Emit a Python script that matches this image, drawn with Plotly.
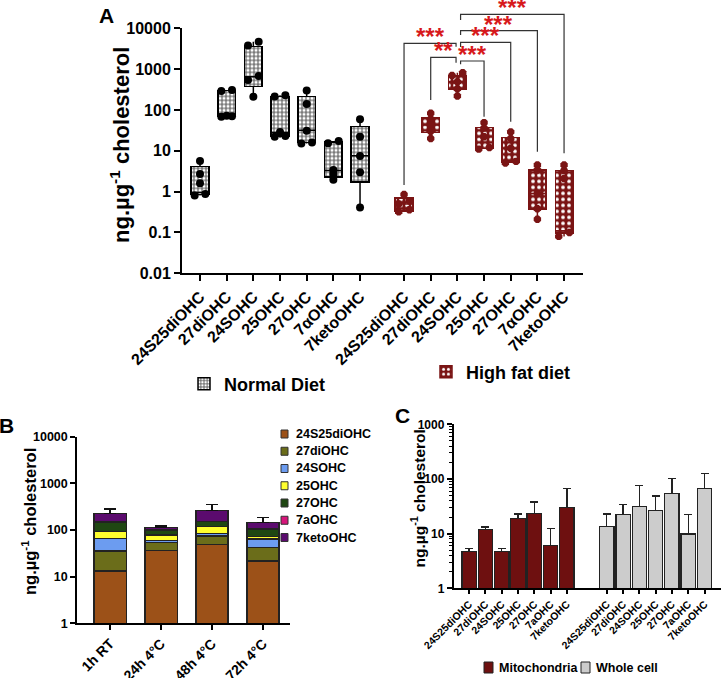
import math
import plotly.graph_objects as go

W, H = 721, 678
FONT = "Liberation Sans, Arial, sans-serif"

# ---------------- Panel A data ----------------
oxy_a = ["24S25diOHC", "27diOHC", "24SOHC", "25OHC", "27OHC", "7αOHC", "7ketoOHC"]
nd_min = [0.8, 68, 212, 21, 15, 1.8, 0.41]
nd_q1 = [0.85, 70, 380, 23, 15.8, 2.3, 1.7]
nd_med = [0.95, 78, 650, 28, 32, 3.3, 7.6]
nd_q3 = [4.1, 300, 3600, 215, 212, 16.5, 39]
nd_max = [5.6, 310, 4700, 230, 300, 17.3, 59]
nd_points = [[5.6, 2.7, 1.6, 0.88, 0.8], [310, 290, 72, 70, 68], [4700, 3800, 680, 543, 212],
             [230, 215, 29, 23, 22], [300, 140, 31, 16, 15], [17.3, 15.3, 3.4, 2.7, 1.95],
             [59, 22, 7.5, 3.0, 0.41]]
hfd_min = [0.32, 20, 220, 11, 5.0, 0.21, 0.08]
hfd_q1 = [0.34, 28, 320, 11.5, 5.3, 0.375, 0.095]
hfd_med = [0.5, 43, 490, 22, 11.5, 0.9, 0.11]
hfd_q3 = [0.69, 66, 680, 37, 21, 3.4, 3.3]
hfd_max = [0.85, 83, 818, 49, 29, 4.5, 4.5]
hfd_points = [[0.85, 0.6, 0.5, 0.36, 0.32], [83, 60, 43, 30, 20], [818, 700, 490, 330, 220],
              [49, 36, 22, 12, 11], [29, 20, 11.5, 5.5, 5.0], [4.5, 3.4, 0.9, 0.38, 0.21],
              [4.5, 3.3, 2.1, 0.1, 0.08]]
# significance: (reference group index, compared group index, label)
sig_pairs = [(2, 0, "***"), (2, 1, "**"), (2, 3, "***"), (2, 4, "***"), (2, 5, "***"), (2, 6, "***")]

# ---------------- Panel B data ----------------
times_b = ["1h RT", "24h 4°C", "48h 4°C", "72h 4°C"]
oxy_b = ["24S25diOHC", "27diOHC", "24SOHC", "25OHC", "27OHC", "7aOHC", "7ketoOHC"]
stack_vals = {
    "24S25diOHC": [13.2, 36.7, 49.4, 21.7],
    "27diOHC": [22.3, 17.8, 25.0, 20.9],
    "24SOHC": [30.9, 4.5, 10.6, 21.4],
    "25OHC": [25.6, 19.0, 33.0, 8.0],
    "27OHC": [54.0, 22.0, 33.0, 33.0],
    "7aOHC": [1.5, 1.0, 1.0, 1.0],
    "7ketoOHC": [80.5, 11.0, 107.0, 40.0],
}
stack_err = {
    "24S25diOHC": [9.6, 18, 20, 12.3],
    "27diOHC": [12, 10, 12, 13],
    "24SOHC": [8, 4, 7, 8],
    "25OHC": [26, 8, 15, 15],
    "27OHC": [47, 6, 27, 10],
    "7aOHC": [0, 0, 0, 0],
    "7ketoOHC": [54, 10, 96, 37],
}
colors_b = ["#9C5118", "#6B6D1A", "#6C9CF0", "#FFFF2E", "#1F4712", "#D6157A", "#5B0B6E"]

# ---------------- Panel C data ----------------
oxy_c = ["24S25diOHC", "27diOHC", "24SOHC", "25OHC", "27OHC", "7aOHC", "7ketoOHC"]
mito_vals = [4.7, 11.8, 4.7, 18.8, 23.5, 6.0, 29.8]
mito_hi = [5.3, 13.2, 5.3, 22.9, 37.9, 12.5, 67.5]
whole_vals = [13.4, 22.6, 31.2, 26.4, 54.7, 9.9, 66.5]
whole_hi = [22.9, 34.4, 76.6, 48.9, 101, 22.2, 127]


def px(x):
    return x / W


def py(y):
    return 1 - y / H


fig = go.Figure()

# ---------- Panel A ----------
nd_x = list(range(7))
hfd_x = [7.65 + i for i in range(7)]
BW = 0.66
ND_COL = "#7a7a7a"
HFD_COL = "#7A1414"


def offsets(vals):
    order = sorted(range(len(vals)), key=lambda i: vals[i])
    offs = [0.0] * len(vals)
    clusters, cur = [], [order[0]]
    for a, b in zip(order, order[1:]):
        if abs(math.log10(vals[b]) - math.log10(vals[a])) < 0.1:
            cur.append(b)
        else:
            clusters.append(cur)
            cur = [b]
    clusters.append(cur)
    for c in clusters:
        if len(c) == 2:
            offs[c[0]], offs[c[1]] = -0.2, 0.2
        elif len(c) >= 3:
            for k, i in enumerate(c):
                offs[i] = [-0.2, 0.2, 0.0, -0.1, 0.1][k % 5]
    return offs


def add_boxes(xs, lo, q1, med, q3, hi, pts, name, fill, dot, dotsize, solidity, edge, sym, legend):
    fig.add_trace(go.Bar(
        x=xs, y=[b - a for a, b in zip(q1, q3)], base=q1, width=BW, name="<b>%s</b>" % name,
        marker=dict(color=fill, line=dict(color=edge, width=1.5),
                    pattern=dict(shape=".", fgcolor=dot, bgcolor=fill, size=dotsize,
                                 solidity=solidity, fillmode="replace")),
        xaxis="x", yaxis="y", legend=legend, showlegend=True, hoverinfo="skip"))
    lx, ly = [], []
    for x, a, b, c, d, m in zip(xs, lo, q1, q3, hi, med):
        lx += [x, x, None, x, x, None, x - BW / 2, x + BW / 2, None]
        ly += [a, b, None, c, d, None, m, m, None]
    fig.add_trace(go.Scatter(x=lx, y=ly, mode="lines", line=dict(color=edge, width=1.5),
                             xaxis="x", yaxis="y", showlegend=False, hoverinfo="skip"))
    mx, my = [], []
    for x, p in zip(xs, pts):
        for o, v in zip(offsets(p), p):
            mx.append(x + o)
            my.append(v)
    fig.add_trace(go.Scatter(x=mx, y=my, mode="markers",
                             marker=dict(symbol=sym, size=8, color=edge),
                             xaxis="x", yaxis="y", showlegend=False, hoverinfo="skip"))


add_boxes(nd_x, nd_min, nd_q1, nd_med, nd_q3, nd_max, nd_points, "Normal Diet",
          ND_COL, "white", 4, 0.45, "black", "circle", "legend")
add_boxes(hfd_x, hfd_min, hfd_q1, hfd_med, hfd_q3, hfd_max, hfd_points, "High fat diet",
          HFD_COL, "white", 6, 0.3, HFD_COL, "octagon", "legend2")

# significance brackets (y in axis-domain fractions)
dom_h = 245.0
bracket_tops = [43.3, 57.3, 61.0, 42.3, 30.7, 14.3]
bracket_ref_bottoms = [46.7, 62.7, 64.3, 47.0, 35.0, 20.0]
bracket_tgt_bottoms = [185.0, 100.0, 116.7, 121.7, 151.7, 153.3]
shapes = []
annotations = []
for (ri, ti, lab), yt, yrb, ytb in zip(sig_pairs, bracket_tops, bracket_ref_bottoms, bracket_tgt_bottoms):
    xr = hfd_x[ri] + (-0.05 if ti < ri else 0.12)
    xt = hfd_x[ti]
    ft = 1 + (28.3 - yt) / dom_h
    frb = 1 + (28.3 - yrb) / dom_h
    ftb = 1 + (28.3 - ytb) / dom_h
    shapes.append(dict(type="path", xref="x", yref="y domain",
                       path="M %f,%f L %f,%f L %f,%f L %f,%f" % (xt, ftb, xt, ft, xr, ft, xr, frb),
                       line=dict(color="#333333", width=1.2)))
    annotations.append(dict(text="<b>%s</b>" % lab, x=(xr + xt) / 2, xref="x", y=ft, yref="y domain",
                            yanchor="bottom", showarrow=False, yshift=-9,
                            font=dict(size=24, color="#D7191C", family=FONT)))

# ---------- Panel B ----------
xb = list(range(4))
for name, col in zip(oxy_b, colors_b):
    errs = stack_err[name]
    fig.add_trace(go.Bar(
        x=xb, y=stack_vals[name], width=0.63, name=name,
        marker=dict(color=col, line=dict(color="#222222", width=1.2)),
        error_y=dict(type="data", symmetric=False, array=errs, arrayminus=[0] * 4,
                     visible=any(e > 0 for e in errs), color="#111111", thickness=1.3, width=6),
        xaxis="x2", yaxis="y2", showlegend=False, hoverinfo="skip"))

# ---------- Panel C ----------
mito_x = list(range(7))
whole_x = [8.45 + i for i in range(7)]
fig.add_trace(go.Bar(
    x=mito_x, y=mito_vals, width=0.88, name="Mitochondria",
    marker=dict(color="#6E1010", line=dict(color="#222222", width=1.3)),
    error_y=dict(type="data", symmetric=False, array=[h - v for h, v in zip(mito_hi, mito_vals)],
                 arrayminus=[0] * 7, color="#222222", thickness=1.3, width=4),
    xaxis="x3", yaxis="y3", showlegend=False, hoverinfo="skip"))
fig.add_trace(go.Bar(
    x=whole_x, y=whole_vals, width=0.88, name="Whole cell",
    marker=dict(color="#CCCCCC", line=dict(color="#222222", width=1.3)),
    error_y=dict(type="data", symmetric=False, array=[h - v for h, v in zip(whole_hi, whole_vals)],
                 arrayminus=[0] * 7, color="#222222", thickness=1.3, width=4),
    xaxis="x3", yaxis="y3", showlegend=False, hoverinfo="skip"))

# ---------- custom legends ----------
for i, (name, col) in enumerate(zip(oxy_b, colors_b)):
    yc = 434 + i * 17.25
    shapes.append(dict(type="rect", xref="paper", yref="paper", x0=px(281), x1=px(288),
                       y0=py(yc + 4), y1=py(yc - 4), fillcolor=col, line=dict(color="#333", width=1)))
    annotations.append(dict(text="<b>%s</b>" % name, x=px(294), y=py(yc), xref="paper", yref="paper",
                            xanchor="left", yanchor="middle", showarrow=False,
                            font=dict(size=12.5, color="black", family=FONT)))
for name, col, x0 in [("Mitochondria", "#6E1010", 484), ("Whole cell", "#CCCCCC", 581)]:
    shapes.append(dict(type="rect", xref="paper", yref="paper", x0=px(x0), x1=px(x0 + 9),
                       y0=py(673), y1=py(662), fillcolor=col, line=dict(color="#222", width=1)))
    annotations.append(dict(text="<b>%s</b>" % name, x=px(x0 + 13), y=py(667.5), xref="paper",
                            yref="paper", xanchor="left", yanchor="middle", showarrow=False,
                            font=dict(size=12.5, color="black", family=FONT)))

# ---------- titles and panel letters ----------
ytitle = "<b>ng.µg<sup>-1</sup> cholesterol</b>"
for x, y, s in [(120, 145, 22), (29, 522, 16.5), (418, 498.5, 15.5)]:
    annotations.append(dict(text=ytitle, x=px(x), y=py(y), xref="paper", yref="paper", textangle=-90,
                            showarrow=False, xanchor="center", yanchor="middle",
                            font=dict(size=s, color="black", family=FONT)))
for lab, x, y in [("A", 106, 15), ("B", 7, 425), ("C", 402, 415)]:
    annotations.append(dict(text="<b>%s</b>" % lab, x=px(x), y=py(y), xref="paper", yref="paper",
                            showarrow=False, xanchor="center", yanchor="middle",
                            font=dict(size=21, color="black", family=FONT)))

axis_common = dict(showgrid=False, zeroline=False, showline=True, linecolor="black",
                   ticks="outside", tickcolor="black", automargin=False)

fig.update_layout(
    template="none",
    width=W, height=H, autosize=False, margin=dict(l=0, r=0, t=0, b=0, pad=0),
    paper_bgcolor="white", plot_bgcolor="white", barmode="stack",
    font=dict(family=FONT, color="black"),
    xaxis=dict(domain=[px(182), px(583)], range=[-0.675, 14.36], anchor="y",
               tickvals=nd_x + hfd_x, ticktext=oxy_a + oxy_a, tickangle=-45,
               tickfont=dict(size=16, family=FONT, weight="bold"),
               linewidth=2, tickwidth=2, ticklen=6, **axis_common),
    yaxis=dict(domain=[py(273.3), py(28.3)], type="log", range=[-2, 4], anchor="x",
               tickvals=[0.01, 0.1, 1, 10, 100, 1000, 10000],
               ticktext=["0.01", "0.1", "1", "10", "100", "1000", "10000"],
               tickfont=dict(size=16, family=FONT, weight="bold"),
               linewidth=2, tickwidth=2, ticklen=6, **axis_common),
    xaxis2=dict(domain=[px(77), px(290)], range=[-0.65, 3.53], anchor="y2",
                tickvals=xb, ticktext=times_b, tickangle=-45,
                tickfont=dict(size=14, family=FONT, weight="bold"),
                linewidth=1.5, tickwidth=1.5, ticklen=5, **axis_common),
    yaxis2=dict(domain=[py(623.3), py(436.6)], type="log", range=[0, 4], anchor="x2",
                tickvals=[1, 10, 100, 1000, 10000], ticktext=["1", "10", "100", "1000", "10000"],
                tickfont=dict(size=12.5, family=FONT, weight="bold"),
                linewidth=1.5, tickwidth=1.5, ticklen=5, **axis_common),
    xaxis3=dict(domain=[px(453.5), 1.0], range=[-0.96, 15.46], anchor="y3",
                tickvals=mito_x + whole_x, ticktext=oxy_c + oxy_c, tickangle=-45,
                tickfont=dict(size=10.5, family=FONT, weight="bold"),
                linewidth=1.5, tickwidth=1.5, ticklen=4, **axis_common),
    yaxis3=dict(domain=[py(588.3), py(424.3)], type="log", range=[0, 3], anchor="x3",
                tickvals=[1, 10, 100, 1000], ticktext=["1", "10", "100", "1000"],
                tickfont=dict(size=12, family=FONT, weight="bold"),
                minor=dict(tickvals=[m * d for d in (1, 10, 100) for m in range(2, 10)],
                           ticks="outside", ticklen=3, tickwidth=1, tickcolor="black"),
                linewidth=1.5, tickwidth=1.5, ticklen=5, **axis_common),
    legend=dict(x=px(184), y=py(384), xanchor="left", yanchor="middle", bgcolor="rgba(0,0,0,0)",
                font=dict(size=18, family=FONT, color="black")),
    legend2=dict(x=px(426), y=py(372), xanchor="left", yanchor="middle", bgcolor="rgba(0,0,0,0)",
                 font=dict(size=18, family=FONT, color="black")),
    shapes=shapes, annotations=annotations,
)

fig.write_html("out.html", config={"displayModeBar": False},
               post_script="document.body.style.margin='0px';document.body.style.overflow='hidden';")
